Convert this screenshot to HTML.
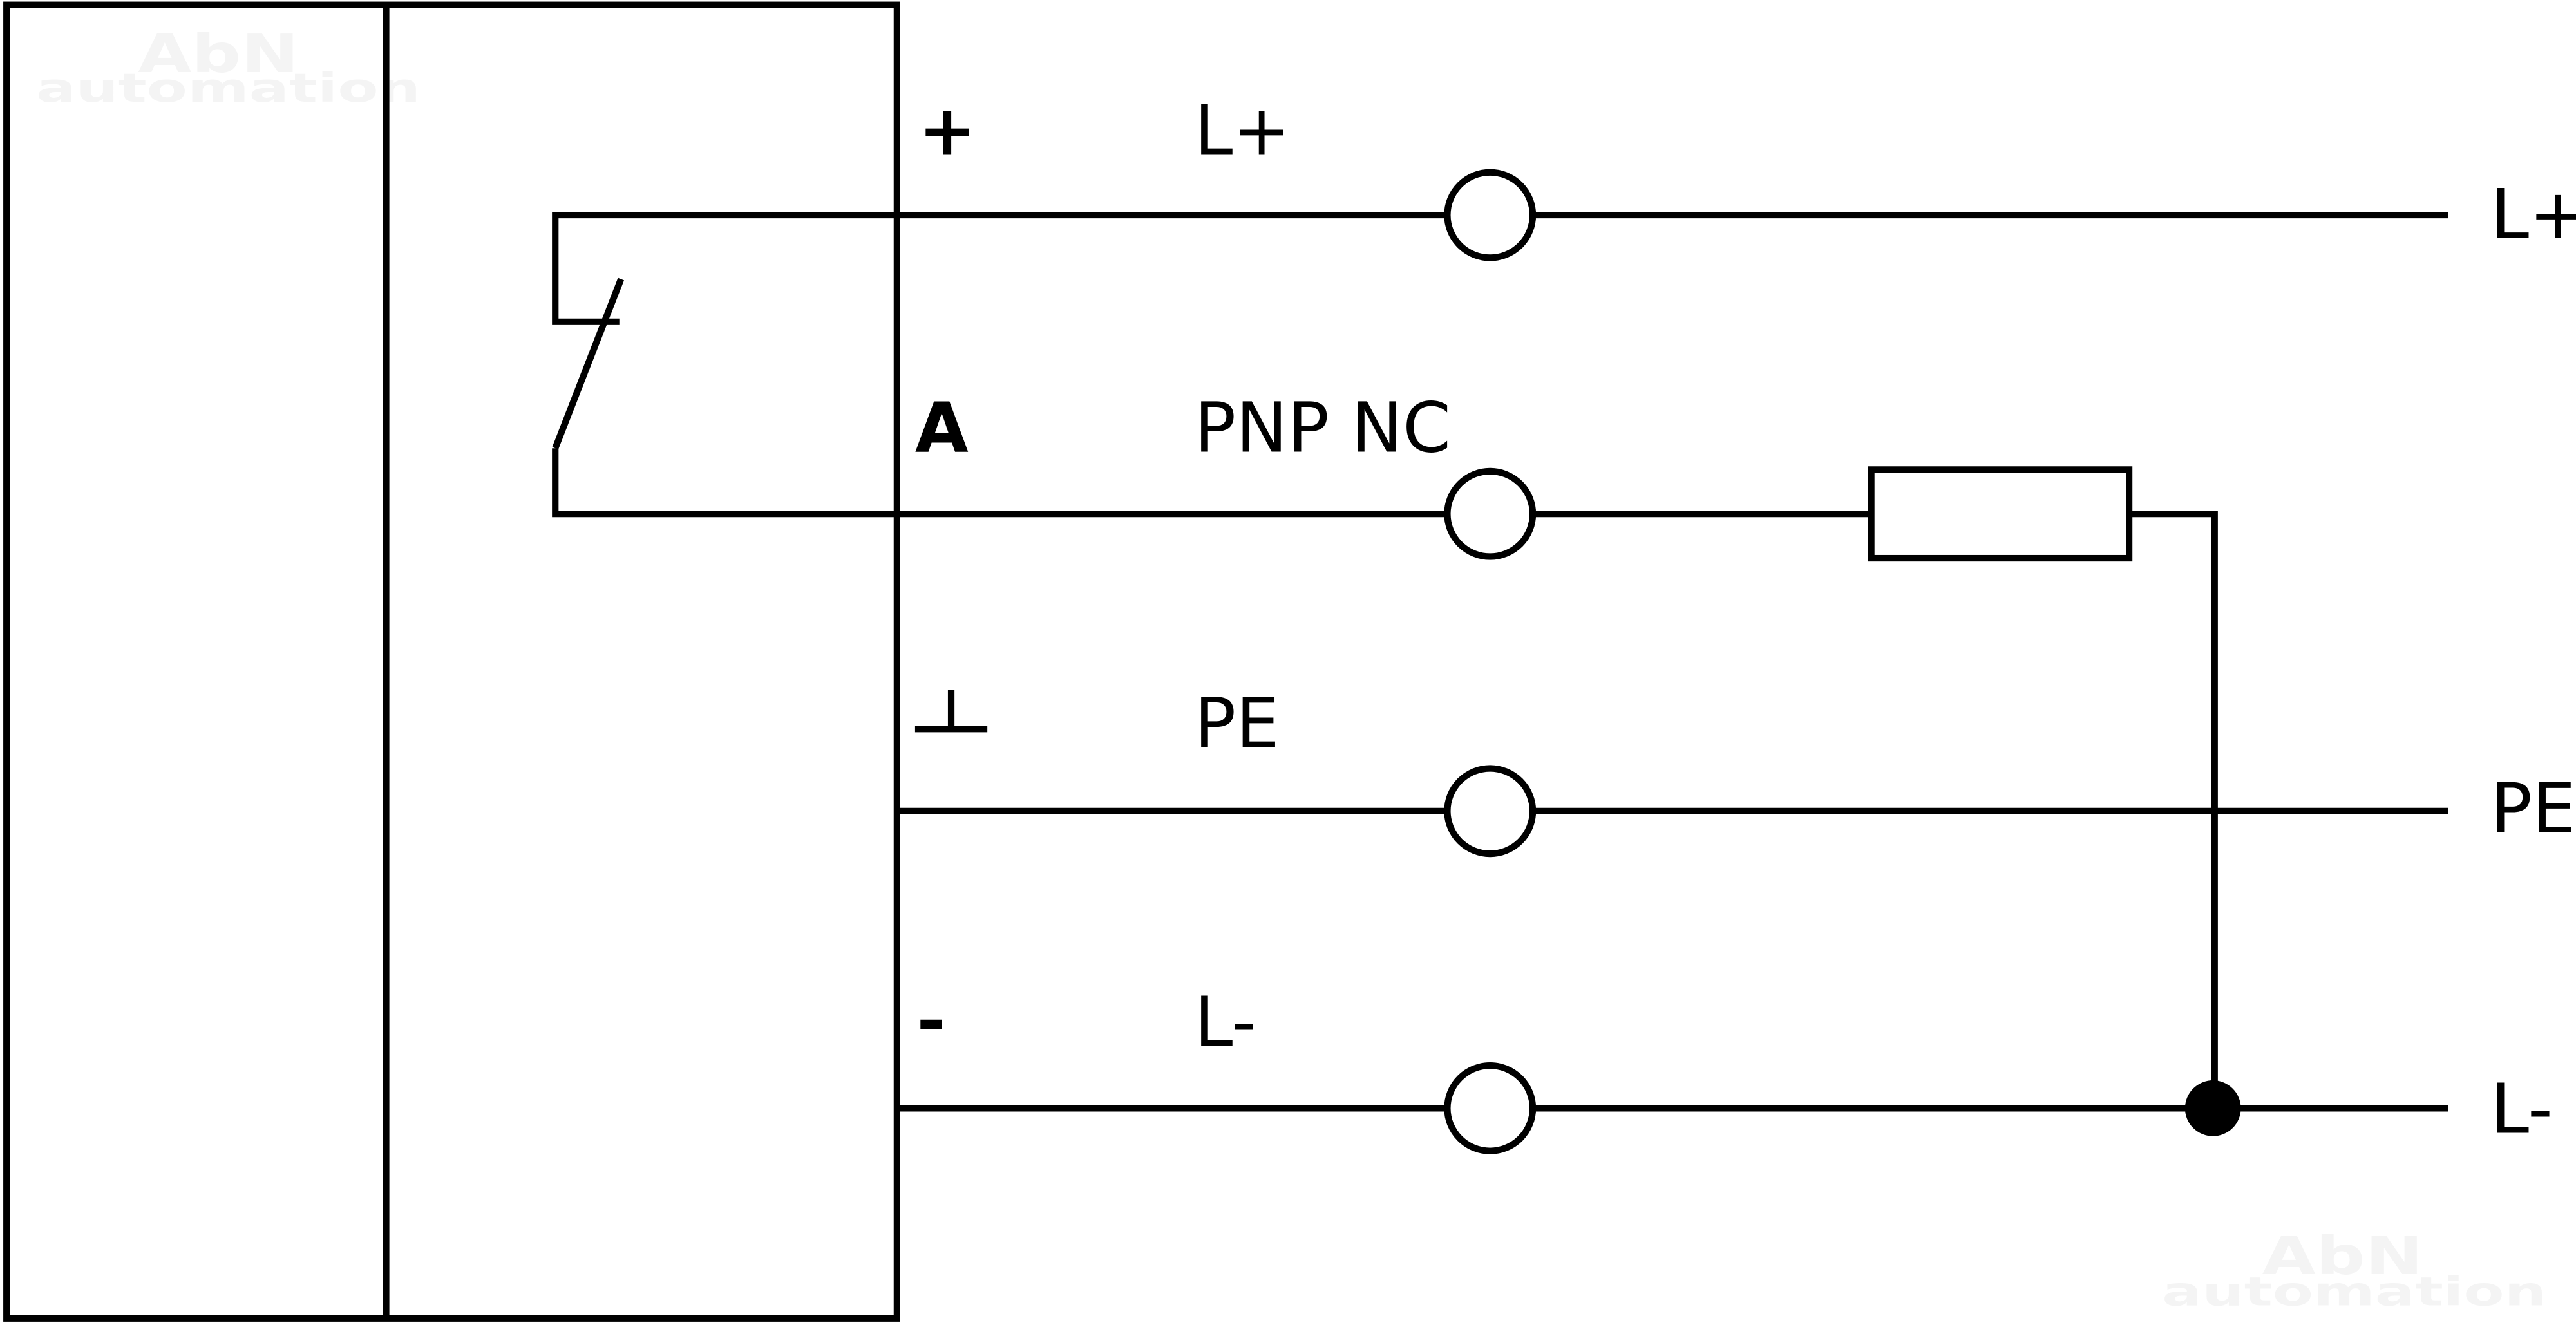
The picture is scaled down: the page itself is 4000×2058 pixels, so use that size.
<!DOCTYPE html>
<html><head><meta charset="utf-8"><style>html,body{margin:0;padding:0;background:#fff}svg{display:block}</style></head>
<body>
<svg width="4000" height="2058" viewBox="0 0 1568 807" preserveAspectRatio="none" xmlns="http://www.w3.org/2000/svg">
<rect width="1568" height="807" fill="#fff"/>
<g font-family="'DejaVu Sans','Liberation Sans',sans-serif" font-weight="bold" fill="#f4f4f4">
<text x="84" y="44" font-size="32" textLength="98" lengthAdjust="spacingAndGlyphs">AbN</text>
<text x="22" y="62" font-size="24" textLength="234" lengthAdjust="spacingAndGlyphs">automation</text>
<text x="1377" y="776" font-size="32" textLength="98" lengthAdjust="spacingAndGlyphs">AbN</text>
<text x="1316" y="795" font-size="24" textLength="234" lengthAdjust="spacingAndGlyphs">automation</text>
</g>
<g stroke="#000" stroke-width="4" fill="none">
<rect x="4" y="3" width="542" height="800"/>
<line x1="235" y1="3" x2="235" y2="803"/>
<polyline points="881,131 338,131 338,196 377,196"/>
<line x1="378" y1="170" x2="338" y2="273"/>
<polyline points="338,273 338,313 881,313"/>
<line x1="933" y1="131" x2="1490" y2="131"/>
<line x1="933" y1="313" x2="1139" y2="313"/>
<rect x="1139" y="286" width="157" height="54"/>
<polyline points="1296,313 1348,313 1348,675"/>
<line x1="546" y1="494" x2="881" y2="494"/>
<line x1="933" y1="494" x2="1490" y2="494"/>
<line x1="546" y1="675" x2="881" y2="675"/>
<line x1="933" y1="675" x2="1490" y2="675"/>
<circle cx="907" cy="131" r="26"/>
<circle cx="907" cy="313" r="26"/>
<circle cx="907" cy="494" r="26"/>
<circle cx="907" cy="675" r="26"/>
<line x1="557" y1="444" x2="601" y2="444"/>
<line x1="579" y1="420" x2="579" y2="444"/>
</g>
<circle cx="1347" cy="675" r="17" fill="#000"/>
<g font-family="'DejaVu Sans','Liberation Sans',sans-serif" font-size="42" fill="#000">
<text x="559" y="94" font-weight="bold">+</text>
<text x="557" y="275" font-weight="bold">A</text>
<text x="558" y="636" font-weight="bold">-</text>
<text x="727" y="94">L+</text>
<text x="727" y="275">PNP NC</text>
<text x="727" y="455">PE</text>
<text x="727" y="637">L-</text>
<text x="1516" y="145">L+</text>
<text x="1516" y="507">PE</text>
<text x="1516" y="690">L-</text>
</g>
</svg>
</body></html>
